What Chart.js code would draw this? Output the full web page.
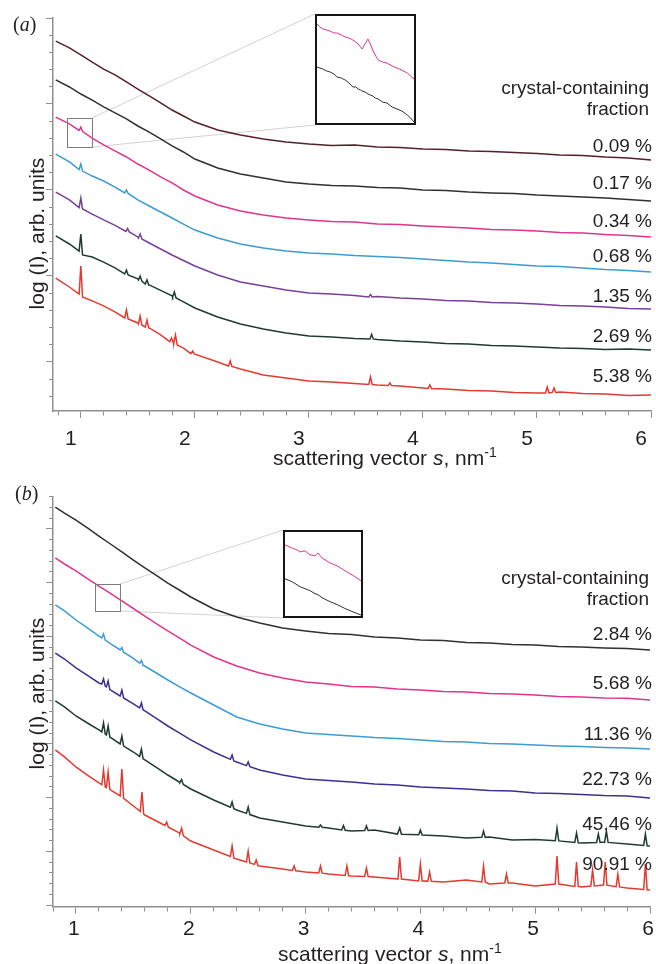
<!DOCTYPE html>
<html>
<head>
<meta charset="utf-8">
<title>SAXS curves of crystal-containing fractions</title>
<script src="https://cdn.jsdelivr.net/npm/chart.js@4.4.1/dist/chart.umd.min.js"></script>
<style>
  html, body { margin: 0; padding: 0; background: #fff; }
  #fig { position: relative; width: 656px; height: 964px; overflow: hidden;
         font-family: "Liberation Sans", Arial, Helvetica, sans-serif; color: #231f20; }
  #fig canvas.main { position: absolute; left: 0; }
  .inset { position: absolute; border: 2px solid #161616; background: #fff; }
  .inset canvas { display: block; }
  .note { position: absolute; font-size: 19px; line-height: 19px; white-space: nowrap; text-align: right; }
  .tag { position: absolute; font-family: "Liberation Serif", "Times New Roman", serif; font-size: 20px; line-height: 20px; }
  .xt { position: absolute; font-size: 21px; line-height: 21px; white-space: nowrap; }
  .xt .sup { position: relative; top: -8px; font-size: 14px; }
  .yt { position: absolute; width: 200px; height: 21px; font-size: 21px; line-height: 21px;
        text-align: center; white-space: nowrap; transform: rotate(-90deg); }
</style>
</head>
<body>
<div id="fig">
  <canvas id="chartA" class="main" width="656" height="480" style="top:0"></canvas>
  <canvas id="chartB" class="main" width="656" height="484" style="top:480px"></canvas>
  <div class="inset" id="insetBoxA" style="left:315px; top:14px;"><canvas id="insetA" width="97" height="107"></canvas></div>
  <div class="inset" id="insetBoxB" style="left:283px; top:530px;"><canvas id="insetB" width="76" height="84"></canvas></div>
  <div class="tag" style="left:13px; top:14px;">(<i>a</i>)</div>
  <div class="tag" style="left:15px; top:483px;">(<i>b</i>)</div>
  <div class="yt" style="left:-64px; top:223px;">log (I), arb. units</div>
  <div class="yt" style="left:-64px; top:683px;">log (I), arb. units</div>
  <div class="xt" style="left:273px; top:447px;">scattering vector <i>s</i>, nm<span class="sup">-1</span></div>
  <div class="xt" style="left:278px; top:943px;">scattering vector <i>s</i>, nm<span class="sup">-1</span></div>
</div>
<script>
// ---------- panel (a) ----------
// scattering vector s (nm^-1) where the curves were read
const sGridA = [0.78, 0.9, 1.0, 1.1, 1.2, 1.3, 1.4, 1.5, 1.6, 1.7, 1.8, 1.9, 2.0, 2.2, 2.4, 2.6, 2.8, 3.0, 3.2, 3.4, 3.6, 3.8, 4.0, 4.2, 4.4, 4.6, 4.8, 5.0, 5.2, 5.4, 5.6, 5.8, 6.0];
// log(I), arb. units (one unit = one minor tick), curves shifted as in the figure
const logA009 = [20.66, 20.26, 19.85, 19.44, 19.03, 18.69, 18.28, 17.87, 17.47, 17.06, 16.65, 16.30, 15.95, 15.49, 15.20, 14.97, 14.79, 14.67, 14.59, 14.62, 14.50, 14.47, 14.38, 14.36, 14.27, 14.24, 14.18, 14.12, 14.03, 14.01, 13.92, 13.86, 13.74];
const logA017 = [18.40, 17.99, 17.58, 17.23, 16.83, 16.48, 16.13, 15.72, 15.37, 14.97, 14.56, 14.21, 13.80, 13.28, 12.93, 12.70, 12.47, 12.35, 12.26, 12.23, 12.15, 12.12, 12.00, 11.97, 11.88, 11.83, 11.80, 11.71, 11.65, 11.59, 11.53, 11.45, 11.36];
const logA034 = [16.24, 15.84, 15.43, 15.02, 14.62, 14.27, 13.92, 13.51, 13.16, 12.76, 12.41, 12.00, 11.65, 11.13, 10.78, 10.55, 10.37, 10.26, 10.17, 10.14, 10.02, 9.99, 9.91, 9.85, 9.79, 9.70, 9.67, 9.62, 9.53, 9.50, 9.41, 9.35, 9.27];
const logA068 = [14.09, 13.63, 13.16, 12.81, 12.52, 12.17, 11.83, 11.42, 11.07, 10.72, 10.37, 10.02, 9.67, 9.21, 8.86, 8.63, 8.45, 8.34, 8.28, 8.19, 8.13, 8.08, 7.99, 7.90, 7.81, 7.76, 7.67, 7.58, 7.55, 7.47, 7.38, 7.32, 7.23];
const logA135 = [11.88, 11.42, 10.95, 10.60, 10.26, 9.94, 9.62, 9.27, 8.92, 8.57, 8.22, 7.90, 7.58, 7.06, 6.65, 6.42, 6.19, 6.01, 5.95, 5.87, 5.81, 5.72, 5.66, 5.58, 5.55, 5.46, 5.43, 5.37, 5.28, 5.26, 5.20, 5.11, 5.08];
const logA269 = [9.33, 8.86, 8.40, 8.10, 7.81, 7.47, 7.12, 6.83, 6.48, 6.16, 5.84, 5.49, 5.14, 4.62, 4.21, 3.92, 3.69, 3.51, 3.45, 3.37, 3.31, 3.22, 3.16, 3.08, 3.05, 2.96, 2.93, 2.87, 2.81, 2.78, 2.73, 2.76, 2.70];
const logA538 = [6.88, 6.36, 5.95, 5.55, 5.26, 4.91, 4.56, 4.27, 3.98, 3.57, 3.16, 2.81, 2.47, 2.00, 1.59, 1.24, 1.07, 0.90, 0.84, 0.75, 0.66, 0.60, 0.49, 0.43, 0.34, 0.31, 0.23, 0.20, 0.26, 0.17, 0.14, 0.05, 0.08];
// Bragg peaks: [s, top, base before, base after]
const peaksA009 = [];
const peaksA017 = [];
const peaksA034 = [[1.0, 15.66, 15.46, 15.40]];
const peaksA068 = [[1.0, 13.51, 13.19, 13.10], [1.4, 12.00, 11.83, 11.80]];
const peaksA135 = [[1.0, 11.53, 10.98, 10.90], [1.41, 9.76, 9.59, 9.56], [1.52, 9.44, 9.21, 9.15], [3.54, 5.92, 5.78, 5.78]];
const peaksA269 = [[1.0, 9.44, 8.45, 8.22], [1.4, 7.35, 7.12, 7.06], [1.52, 7.00, 6.77, 6.71], [1.58, 6.77, 6.53, 6.48], [1.82, 6.07, 5.78, 5.72], [3.55, 3.60, 3.34, 3.34]];
const peaksA538 = [[1.0, 7.58, 5.95, 5.78], [1.4, 5.02, 4.56, 4.50], [1.52, 4.67, 4.21, 4.15], [1.58, 4.44, 4.03, 3.98], [1.795, 3.40, 3.19, 3.13], [1.83, 3.57, 3.10, 2.99], [1.98, 2.64, 2.49, 2.47], [2.31, 2.06, 1.77, 1.74], [3.54, 1.13, 0.69, 0.69], [3.71, 0.78, 0.63, 0.63], [4.06, 0.66, 0.46, 0.46], [5.09, 0.55, 0.20, 0.20], [5.15, 0.49, 0.23, 0.23]];
const fractionsA = ["0.09 %", "0.17 %", "0.34 %", "0.68 %", "1.35 %", "2.69 %", "5.38 %"];
// zoomed window [s from, s to, log I from, log I to] and the inset curves
const zoomA = [0.879, 1.098, 14.50, 16.19];
const insetSA = [0.900, 0.906, 0.912, 0.920, 0.927, 0.935, 0.941, 0.950, 0.958, 0.966, 0.974, 0.980, 0.985, 0.990, 0.993, 0.999, 1.005, 1.010, 1.015, 1.020, 1.026, 1.035, 1.044, 1.055, 1.065, 1.075, 1.086, 1.093, 1.100];
const insetPinkA = [9.9, 9.6, 9.4, 9.3, 9.2, 9.0, 9.0, 8.8, 8.6, 8.5, 8.3, 8.1, 7.9, 7.6, 7.4, 7.9, 8.4, 7.9, 7.3, 6.8, 6.3, 6.1, 6.0, 5.7, 5.5, 5.3, 5.0, 4.7, 4.4];
const insetBlackA = [5.6, 5.5, 5.4, 5.2, 5.1, 4.9, 4.6, 4.5, 4.3, 4.0, 3.6, 3.6, 3.4, 3.3, 3.2, 3.1, 2.9, 2.8, 2.7, 2.5, 2.4, 2.1, 2.0, 1.6, 1.4, 1.2, 0.8, 0.5, 0.1];

// ---------- panel (b) ----------
const sGridB = [0.82, 0.9, 1.0, 1.1, 1.2, 1.3, 1.4, 1.5, 1.6, 1.7, 1.8, 1.9, 2.0, 2.2, 2.4, 2.6, 2.8, 3.0, 3.2, 3.4, 3.6, 3.8, 4.0, 4.2, 4.4, 4.6, 4.8, 5.0, 5.2, 5.4, 5.6, 5.8, 6.0];
const logB284 = [36.04, 35.48, 34.83, 34.09, 33.34, 32.60, 31.86, 31.11, 30.37, 29.67, 28.97, 28.32, 27.67, 26.55, 25.81, 25.25, 24.79, 24.51, 24.27, 24.18, 23.95, 23.86, 23.67, 23.62, 23.44, 23.39, 23.25, 23.20, 23.07, 23.02, 22.93, 22.88, 22.74];
const logB568 = [31.30, 30.74, 30.09, 29.39, 28.69, 28.00, 27.30, 26.60, 25.90, 25.20, 24.51, 23.86, 23.20, 22.09, 21.25, 20.60, 20.13, 19.76, 19.58, 19.34, 19.30, 19.11, 19.02, 18.88, 18.83, 18.69, 18.65, 18.55, 18.41, 18.36, 18.27, 18.25, 18.09];
const logB1136 = [26.93, 26.37, 25.53, 24.79, 24.04, 23.34, 22.65, 21.95, 21.25, 20.60, 19.95, 19.34, 18.74, 17.62, 16.51, 15.86, 15.39, 15.02, 14.88, 14.74, 14.60, 14.51, 14.37, 14.23, 14.18, 14.04, 14.00, 13.90, 13.81, 13.76, 13.67, 13.62, 13.53];
const logB2273 = [22.46, 21.90, 21.07, 20.37, 19.67, 19.02, 18.37, 17.72, 17.07, 16.37, 15.67, 15.02, 14.37, 13.25, 12.32, 11.58, 11.11, 10.74, 10.60, 10.46, 10.27, 10.18, 10.00, 9.90, 9.81, 9.67, 9.62, 9.44, 9.39, 9.30, 9.20, 9.16, 8.97];
const logB4546 = [18.00, 17.44, 16.60, 15.95, 15.30, 14.60, 13.90, 13.25, 12.51, 11.81, 11.11, 10.46, 9.81, 8.79, 7.86, 7.11, 6.74, 6.37, 6.18, 5.90, 6.00, 5.62, 5.53, 5.44, 5.25, 5.34, 5.07, 5.12, 4.97, 4.79, 4.88, 4.69, 4.51];
const logB9091 = [13.44, 12.79, 11.86, 11.11, 10.37, 9.72, 9.07, 8.23, 7.39, 6.83, 6.27, 5.72, 4.97, 4.13, 3.30, 2.65, 2.37, 2.09, 1.90, 1.72, 1.62, 1.44, 1.25, 1.16, 1.34, 0.97, 1.07, 0.79, 0.97, 0.69, 0.88, 0.60, 0.41];
const peaksB284 = [];
const peaksB568 = [];
const peaksB1136 = [[1.24, 24.23, 23.87, 23.66], [1.40, 22.97, 22.75, 22.54], [1.57, 21.76, 21.52, 21.31]];
const peaksB2273 = [[1.24, 20.04, 19.57, 19.38], [1.28, 19.86, 19.31, 19.06], [1.40, 19.02, 18.46, 18.28], [1.57, 17.81, 17.35, 17.16], [2.36, 12.97, 12.57, 12.41], [2.50, 12.32, 11.98, 11.89]];
const peaksB4546 = [[1.24, 15.95, 15.12, 14.92], [1.28, 15.67, 14.84, 14.63], [1.40, 14.74, 14.00, 13.80], [1.57, 13.53, 12.84, 12.62], [1.92, 10.69, 10.43, 10.23], [2.36, 8.60, 8.11, 7.97], [2.50, 8.13, 7.54, 7.43], [3.13, 6.46, 6.25, 6.25], [3.33, 6.41, 6.00, 5.97], [3.53, 6.37, 5.95, 5.95], [3.82, 6.18, 5.62, 5.60], [4.0, 6.00, 5.55, 5.53], [4.55, 5.90, 5.31, 5.31], [5.19, 6.18, 5.00, 4.98], [5.36, 5.72, 4.83, 4.80], [5.55, 5.62, 4.84, 4.83], [5.62, 5.90, 4.86, 4.84], [5.96, 5.62, 4.56, 4.53]];
const peaksB9091 = [[1.24, 11.58, 10.20, 10.00], [1.28, 11.39, 9.94, 9.75], [1.40, 11.67, 9.16, 8.94], [1.575, 9.53, 7.73, 7.47], [1.79, 6.74, 6.41, 6.25], [1.92, 6.18, 5.68, 5.46], [2.36, 4.51, 3.53, 3.40], [2.50, 4.04, 3.02, 2.93], [2.57, 3.20, 2.80, 2.69], [2.9, 2.65, 2.23, 2.20], [3.13, 2.65, 2.00, 1.98], [3.36, 2.65, 1.76, 1.74], [3.53, 2.46, 1.67, 1.66], [3.82, 3.48, 1.45, 1.43], [4.0, 2.83, 1.26, 1.25], [4.08, 2.09, 1.24, 1.23], [4.55, 2.65, 1.16, 1.16], [4.75, 1.90, 1.07, 1.07], [5.19, 3.58, 0.97, 0.97], [5.36, 3.02, 0.75, 0.74], [5.5, 2.27, 0.79, 0.79], [5.61, 3.02, 0.88, 0.86], [5.72, 1.90, 0.72, 0.70], [5.96, 2.83, 0.47, 0.43]];
const fractionsB = ["2.84 %", "5.68 %", "11.36 %", "22.73 %", "45.46 %", "90.91 %"];
const zoomB = [1.166, 1.384, 26.37, 28.88];
const insetSB = [1.170, 1.189, 1.203, 1.211, 1.225, 1.239, 1.253, 1.261, 1.272, 1.294, 1.314, 1.336, 1.355, 1.380];
const insetPinkB = [7.1, 6.8, 6.6, 6.4, 6.5, 6.1, 6.0, 6.3, 5.8, 5.3, 5.0, 4.5, 4.1, 3.5];
const insetBlackB = [3.7, 3.4, 3.1, 2.9, 2.7, 2.5, 2.2, 2.1, 1.8, 1.4, 1.1, 0.7, 0.4, 0.05];

// styles
const colorsA = ["#55202a", "#303030", "#e0348e", "#3d9bd3", "#7a3e9b", "#1e3b2e", "#e33a30"];
const colorsB = ["#303030", "#e0348e", "#3d9bd3", "#3d2f92", "#1e3b2e", "#e33a30"];
const noteTopA = [136, 173, 211, 246, 286, 326, 366];
const noteTopB = [624, 673, 724, 769, 814, 854];
const AXIS = "#8f8f8f";
const INK = "#231f20";
const FONT = '"Liberation Sans", Arial, Helvetica, sans-serif';

function isWhole(v) { return Math.abs(v - Math.round(v)) < 1e-6; }

// curve points + narrow Bragg spikes
function buildSeries(grid, vals, peaks) {
  const pts = [];
  grid.forEach((s, i) => {
    if (!peaks.some(p => Math.abs(p[0] - s) < 0.018)) pts.push({ x: s, y: vals[i] });
  });
  peaks.forEach(([s, top, before, after]) => {
    pts.push({ x: s - 0.015, y: before }, { x: s, y: top }, { x: s + 0.015, y: after });
  });
  return pts.sort((a, b) => a.x - b.x);
}

// zoom window on the curves and the two lines to the inset box
const zoomLinks = {
  id: "zoomLinks",
  beforeDatasetsDraw(chart, args, opts) {
    const { x, y } = chart.scales;
    const ctx = chart.ctx;
    const right = x.getPixelForValue(opts.box[1]);
    const top = y.getPixelForValue(opts.box[3]);
    const bottom = y.getPixelForValue(opts.box[2]);
    const el = document.getElementById(opts.inset);
    const ix = el.offsetLeft;
    const iy = el.offsetTop - chart.canvas.offsetTop;
    ctx.save();
    ctx.strokeStyle = "#d2d2d2";
    ctx.lineWidth = 1;
    ctx.beginPath();
    ctx.moveTo(right, top); ctx.lineTo(ix, iy);
    ctx.moveTo(right, bottom); ctx.lineTo(ix, iy + el.offsetHeight);
    ctx.stroke();
    ctx.restore();
  },
  afterDatasetsDraw(chart, args, opts) {
    const { x, y } = chart.scales;
    const ctx = chart.ctx;
    const left = x.getPixelForValue(opts.box[0]);
    const right = x.getPixelForValue(opts.box[1]);
    const top = y.getPixelForValue(opts.box[3]);
    const bottom = y.getPixelForValue(opts.box[2]);
    ctx.save();
    ctx.strokeStyle = "#7d7d7d";
    ctx.lineWidth = 1;
    ctx.strokeRect(Math.round(left) + 0.5, Math.round(top) + 0.5, Math.round(right - left), Math.round(bottom - top));
    ctx.restore();
  }
};

function makeMain(id, p) {
  return new Chart(document.getElementById(id), {
    type: "line",
    data: {
      datasets: p.series.map((vals, i) => ({
        label: p.labels[i],
        data: buildSeries(p.grid, vals, p.peaks[i]),
        borderColor: p.colors[i],
        borderWidth: 1.5,
        pointRadius: 0,
        tension: 0,
        fill: false
      }))
    },
    options: {
      responsive: false,
      animation: false,
      events: [],
      layout: { padding: p.padding },
      plugins: {
        legend: { display: false },
        tooltip: { enabled: false },
        zoomLinks: { box: p.box, inset: p.inset }
      },
      scales: {
        x: {
          type: "linear",
          min: p.xMin,
          max: 6,
          border: { color: AXIS, width: 1.5 },
          grid: {
            drawOnChartArea: false,
            tickLength: 7,
            tickWidth: 1,
            tickColor: AXIS,
            tickBorderDash: c => (c.tick && isWhole(c.tick.value)) ? [] : [4, 20]
          },
          ticks: {
            stepSize: 0.2,
            includeBounds: false,
            autoSkip: false,
            maxRotation: 0,
            padding: p.labelPad,
            labelOffset: p.labelShift,
            color: INK,
            font: { family: FONT, size: 21 },
            callback: v => isWhole(v) ? String(Math.round(v)) : ""
          },
          afterFit: s => { s.height = p.xHeight; s.paddingLeft = 0; s.paddingRight = 0; }
        },
        y: {
          min: p.yMin,
          max: p.yMax,
          border: { color: AXIS, width: 1.5 },
          grid: {
            drawOnChartArea: false,
            tickLength: 7,
            tickWidth: 1,
            tickColor: AXIS,
            tickBorderDash: c => (c.tick && (Math.round(c.tick.value) - p.yMajor) % 5 === 0) ? [] : [0, 3, 4, 20]
          },
          ticks: { display: false, stepSize: 1, includeBounds: false },
          afterFit: s => { s.width = 53; }
        }
      }
    },
    plugins: [zoomLinks]
  });
}

function makeInset(id, s, pink, black, xr, yr) {
  return new Chart(document.getElementById(id), {
    type: "line",
    data: {
      datasets: [
        { data: s.map((v, i) => ({ x: v, y: pink[i] })), borderColor: "#e0348e" },
        { data: s.map((v, i) => ({ x: v, y: black[i] })), borderColor: "#303030" }
      ]
    },
    options: {
      responsive: false,
      animation: false,
      events: [],
      layout: { padding: 0 },
      elements: { point: { radius: 0 }, line: { borderWidth: 1, tension: 0 } },
      plugins: { legend: { display: false }, tooltip: { enabled: false } },
      scales: {
        x: { type: "linear", display: false, min: xr[0], max: xr[1] },
        y: { display: false, min: yr[0], max: yr[1] }
      }
    }
  });
}

function addNotes(labels, tops, headTop) {
  const fig = document.getElementById("fig");
  const put = (text, top, right) => {
    const d = document.createElement("div");
    d.className = "note";
    d.style.top = top + "px";
    d.style.right = right + "px";
    d.textContent = text;
    fig.appendChild(d);
  };
  put("crystal-containing", headTop, 7);
  put("fraction", headTop + 21, 7);
  labels.forEach((t, i) => put(t, tops[i], 4));
}

makeMain("chartA", {
  grid: sGridA,
  series: [logA009, logA017, logA034, logA068, logA135, logA269, logA538],
  peaks: [peaksA009, peaksA017, peaksA034, peaksA068, peaksA135, peaksA269, peaksA538],
  labels: fractionsA,
  colors: colorsA,
  padding: { top: 18, right: 5, left: 0, bottom: 0 },
  xMin: 0.756,
  xHeight: 69,
  labelPad: 9,
  labelShift: -10,
  yMin: -0.85,
  yMax: 22,
  yMajor: 2,
  box: zoomA,
  inset: "insetBoxA"
});

makeMain("chartB", {
  grid: sGridB,
  series: [logB284, logB568, logB1136, logB2273, logB4546, logB9091],
  peaks: [peaksB284, peaksB568, peaksB1136, peaksB2273, peaksB4546, peaksB9091],
  labels: fractionsB,
  colors: colorsB,
  padding: { top: 16.7, right: 6, left: 0, bottom: 0 },
  xMin: 0.8,
  xHeight: 57.3,
  labelPad: 3,
  labelShift: -2,
  yMin: -1.14,
  yMax: 37,
  yMajor: 4,
  box: zoomB,
  inset: "insetBoxB"
});

makeInset("insetA", insetSA, insetPinkA, insetBlackA, [0.9, 1.1], [0, 10.7]);
makeInset("insetB", insetSB, insetPinkB, insetBlackB, [1.17, 1.38], [-0.05, 8.4]);

addNotes(fractionsA, noteTopA, 78);
addNotes(fractionsB, noteTopB, 568);
</script>
</body>
</html>
